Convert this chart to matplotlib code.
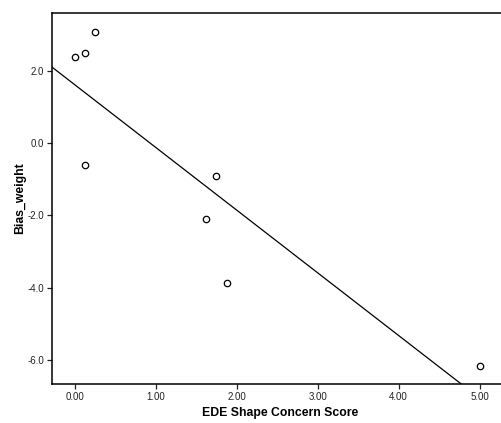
import matplotlib
matplotlib.use("Agg")
import matplotlib.pyplot as plt
import numpy as np

plt.rcParams['font.family'] = ['Liberation Sans', 'DejaVu Sans']

# EDE shape concern score vs weight bias
shape_concern = [0.00, 0.125, 0.25, 0.125, 1.75, 1.625, 1.875, 5.00]
bias_weight = [2.40, 2.50, 3.08, -0.60, -0.90, -2.10, -3.88, -6.18]

x_ticks = [0, 1, 2, 3, 4, 5]
y_ticks = [-6, -4, -2, 0, 2]

fig = plt.figure(figsize=(5.01, 4.23), dpi=100)
ax = fig.add_axes([0.1038, 0.0922, 0.91, 0.877])

# least squares fit line across the whole plot area
slope, intercept = np.polyfit(shape_concern, bias_weight, 1)
xlim = (-0.28, 5.35)
xs = np.array(xlim)
ax.plot(xs, slope * xs + intercept, color='black', lw=0.9)

ax.plot(shape_concern, bias_weight, 'o', mfc='white', mec='black',
        ms=4.6, mew=0.9, ls='none', zorder=3)

ax.set_xlim(xlim)
ax.set_ylim(-6.67, 3.61)
ax.set_xticks(x_ticks)
ax.set_xticklabels([f"{t:.2f}" for t in x_ticks])
ax.set_yticks(y_ticks)
ax.set_yticklabels([f"{t:.1f}" for t in y_ticks])
ax.tick_params(direction='out', length=3.5, width=0.9, labelsize=7, pad=2,
               colors='#222222')

ax.spines['right'].set_visible(False)
for s in ['left', 'bottom', 'top']:
    ax.spines[s].set_linewidth(1.1)

ax.set_xlabel('EDE Shape Concern Score', fontsize=8.8, fontweight='bold', labelpad=4)
ax.set_ylabel('Bias_weight', fontsize=8.8, fontweight='bold', labelpad=1)

fig.savefig('out.png', dpi=100)
